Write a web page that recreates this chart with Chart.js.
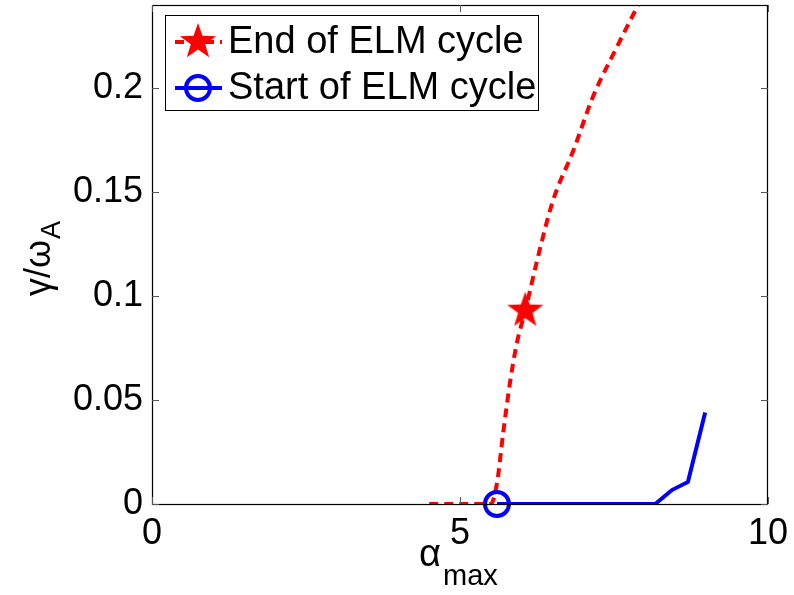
<!DOCTYPE html>
<html>
<head>
<meta charset="utf-8">
<script src="https://cdn.jsdelivr.net/npm/chart.js@4"></script>
<style>
  html, body { margin: 0; padding: 0; background: #fff; }
  #wrap { width: 794px; height: 595px; }
</style>
</head>
<body>
<div id="wrap"><canvas id="chart"></canvas></div>
<script>
// End of ELM cycle (red dashed)
const endAlpha = [4.5, 5.0, 5.5, 5.6, 5.7, 5.81, 5.92, 6.06, 6.25, 6.51, 6.84, 7.16, 7.55, 7.84, 8.0];
const endGamma = [0, 0, 0, 0.010, 0.034, 0.058, 0.077, 0.093, 0.117, 0.146, 0.170, 0.196, 0.220, 0.237, 0.246];
const endMarker = [6.06, 0.093];

// Start of ELM cycle (blue solid)
const startAlpha = [5.6, 8.17, 8.44, 8.7, 8.98];
const startGamma = [0, 0, 0.0067, 0.0106, 0.044];
const startMarker = [5.6, 0];

const xTicks = [0, 5, 10];
const yTicks = [0, 0.05, 0.1, 0.15, 0.2];
const legendLabels = ['End of ELM cycle', 'Start of ELM cycle'];

const FONT = 'Liberation Sans, Arial, sans-serif';

// plot box in page pixels (matches the matlab figure)
const BOX = { left: 152, top: 5, right: 768, bottom: 504 };

// five point star marker
function makeStar(r) {
    const c = document.createElement('canvas');
    c.width = c.height = r * 2 + 2;
    const g = c.getContext('2d');
    g.translate(r + 1, r + 1);
    g.beginPath();
    for (let i = 0; i < 10; i++) {
        const rad = i % 2 === 0 ? r : r * 0.4;
        const a = -Math.PI / 2 + i * Math.PI / 5;
        g.lineTo(rad * Math.cos(a), rad * Math.sin(a));
    }
    g.closePath();
    g.fillStyle = '#ff0000';
    g.fill();
    return c;
}
const star = makeStar(19);

const toXY = (xs, ys) => xs.map((x, i) => ({ x: x, y: ys[i] }));

// pin the chart area to the box after chart.js has done its own layout
const pinPlugin = {
    id: 'pin',
    afterLayout(chart) {
        const a = chart.chartArea;
        Object.assign(a, BOX);
        a.width = BOX.right - BOX.left;
        a.height = BOX.bottom - BOX.top;
        const xs = chart.scales.x, ys = chart.scales.y;
        xs.left = BOX.left; xs.right = BOX.right; xs.width = a.width;
        xs.top = BOX.bottom; xs.bottom = 595;
        ys.top = BOX.top; ys.bottom = BOX.bottom; ys.height = a.height;
        ys.left = 0; ys.right = BOX.left;
        xs.configure();
        ys.configure();
    }
};

const framePlugin = {
    id: 'frame',
    afterDraw(chart) {
        const ctx = chart.ctx;
        const a = chart.chartArea;
        const xs = chart.scales.x, ys = chart.scales.y;
        ctx.save();
        ctx.strokeStyle = '#000';
        ctx.lineWidth = 1.2;
        ctx.strokeRect(a.left + 0.5, a.top + 0.5, a.right - a.left - 1, a.bottom - a.top);
        // inward ticks on all four sides
        ctx.strokeStyle = '#555';
        ctx.lineWidth = 1;
        const tl = 7;
        xTicks.forEach(v => {
            const px = Math.round(xs.getPixelForValue(v)) + 0.5;
            ctx.beginPath();
            ctx.moveTo(px, a.bottom); ctx.lineTo(px, a.bottom - tl);
            ctx.moveTo(px, a.top); ctx.lineTo(px, a.top + tl);
            ctx.stroke();
        });
        yTicks.forEach(v => {
            const py = Math.round(ys.getPixelForValue(v)) + 0.5;
            ctx.beginPath();
            ctx.moveTo(a.left, py); ctx.lineTo(a.left + tl, py);
            ctx.moveTo(a.right, py); ctx.lineTo(a.right - tl, py);
            ctx.stroke();
        });

        // axis titles
        ctx.fillStyle = '#000';
        ctx.textBaseline = 'alphabetic';
        ctx.textAlign = 'left';
        ctx.font = '38px ' + FONT;
        ctx.fillText('\u03b1', 419, 566);
        ctx.font = '29px ' + FONT;
        ctx.fillText('max', 443, 585);

        ctx.save();
        ctx.translate(50, 296);
        ctx.rotate(-Math.PI / 2);
        ctx.font = '36px ' + FONT;
        ctx.fillText('\u03b3/\u03c9', 0, 0);
        const w = ctx.measureText('\u03b3/\u03c9').width;
        ctx.font = '27px ' + FONT;
        ctx.fillText('A', w + 1, 10);
        ctx.restore();

        // legend
        const lx = 165, ly = 15, lw = 373, lh = 95;
        ctx.fillStyle = '#fff';
        ctx.fillRect(lx, ly, lw, lh);
        ctx.strokeStyle = '#000';
        ctx.lineWidth = 1;
        ctx.strokeRect(lx + 0.5, ly + 0.5, lw, lh);
        const rows = [42, 88];
        // red dashed sample
        ctx.strokeStyle = '#ff0000';
        ctx.lineWidth = 4;
        ctx.setLineDash([9, 6]);
        ctx.beginPath();
        ctx.moveTo(175, rows[0]); ctx.lineTo(222, rows[0]);
        ctx.stroke();
        ctx.setLineDash([]);
        ctx.drawImage(star, 198 - star.width / 2, rows[0] - star.height / 2);
        // blue sample
        ctx.strokeStyle = '#0000ff';
        ctx.lineWidth = 4;
        ctx.beginPath();
        ctx.moveTo(175, rows[1]); ctx.lineTo(222, rows[1]);
        ctx.stroke();
        ctx.beginPath();
        ctx.arc(198, rows[1], 12, 0, Math.PI * 2);
        ctx.stroke();
        ctx.fillStyle = '#000';
        ctx.font = '38px ' + FONT;
        ctx.textBaseline = 'middle';
        legendLabels.forEach((t, i) => ctx.fillText(t, 228, rows[i] + 1));
        ctx.restore();
    }
};

new Chart(document.getElementById('chart'), {
    type: 'scatter',
    data: {
        datasets: [
            {
                label: legendLabels[1] + ' marker',
                data: toXY([startMarker[0]], [startMarker[1]]),
                pointStyle: 'circle',
                pointRadius: 12,
                borderWidth: 4,
                borderColor: '#0000ff',
                backgroundColor: 'rgba(0,0,0,0)',
                clip: false,
                order: 0
            },
            {
                label: legendLabels[0] + ' marker',
                data: toXY([endMarker[0]], [endMarker[1]]),
                pointStyle: star,
                order: 1
            },
            {
                label: legendLabels[1],
                data: toXY(startAlpha, startGamma),
                showLine: true,
                borderColor: '#0000ff',
                borderWidth: 4,
                pointRadius: 0,
                order: 2
            },
            {
                label: legendLabels[0],
                data: toXY(endAlpha, endGamma),
                showLine: true,
                borderColor: '#ff0000',
                borderWidth: 4,
                borderDash: [9, 6],
                cubicInterpolationMode: 'monotone',
                pointRadius: 0,
                order: 3
            }
        ]
    },
    options: {
        responsive: true,
        maintainAspectRatio: false,
        animation: false,
        layout: { padding: { top: 5, right: 26, left: 0, bottom: 0 } },
        plugins: {
            legend: { display: false },
            tooltip: { enabled: false }
        },
        scales: {
            x: {
                type: 'linear',
                min: 0, max: 10,
                grid: { display: false, drawTicks: false },
                border: { display: false },
                afterFit: s => { s.height = 91; },
                afterBuildTicks: s => { s.ticks = xTicks.map(v => ({ value: v })); },
                ticks: {
                    padding: 8,
                    color: '#000',
                    maxRotation: 0,
                    font: { family: FONT, size: 36 }
                }
            },
            y: {
                type: 'linear',
                min: 0, max: 0.24,
                grid: { display: false, drawTicks: false },
                border: { display: false },
                afterFit: s => { s.width = 152; },
                afterBuildTicks: s => { s.ticks = yTicks.map(v => ({ value: v })); },
                ticks: {
                    padding: 9,
                    color: '#000',
                    font: { family: FONT, size: 36 },
                    callback: v => String(+v.toFixed(2))
                }
            }
        }
    },
    plugins: [pinPlugin, framePlugin]
});
</script>
</body>
</html>
